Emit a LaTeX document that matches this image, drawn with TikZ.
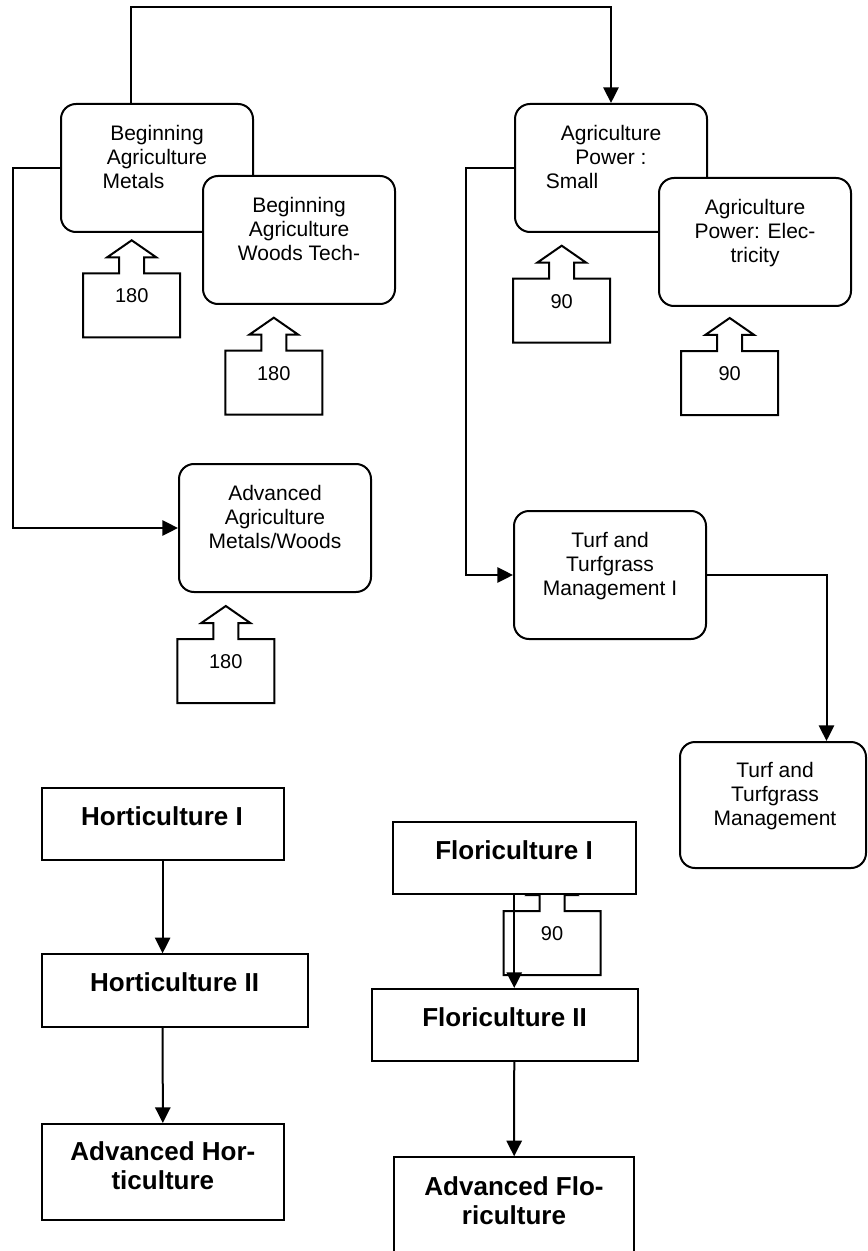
\documentclass[tikz,border=0pt]{standalone}
\usepackage{fontspec}
\setmainfont{Liberation Sans}
\usetikzlibrary{arrows.meta}
\tikzset{
  rbox/.style={draw, line width=1pt, fill=white, rounded corners=7.5pt, inner sep=0pt, minimum width=96pt, minimum height=64pt},
  sbox/.style={draw, line width=1pt, fill=white, inner sep=0pt},
  rtxt/.style={font=\fontsize{10.5}{12}\selectfont, align=center, inner sep=0pt, anchor=north},
  btxt/.style={font=\fontsize{13}{14.5}\selectfont\bfseries, align=center, inner sep=0pt, anchor=north},
  ntxt/.style={font=\fontsize{10}{12}\selectfont, inner sep=0pt},
  callout/.style={draw, line width=1pt, fill=white, line join=miter},
  conn/.style={line width=1pt, -{Triangle[length=7.8pt,width=7.6pt]}}
}
\newcommand\UpCall[4]{%
  \draw[callout] ({#2-48.5},#3) -- ({#2-12.5},#3) -- ({#2-12.5},{#3-16}) -- ({#2-24.5},{#3-16}) -- (#2,{#3-33}) -- ({#2+24.5},{#3-16}) -- ({#2+12.5},{#3-16}) -- ({#2+12.5},#3) -- ({#2+48.5},#3) -- ({#2+48.5},{#3+64}) -- ({#2-48.5},{#3+64}) -- cycle;
  \node[ntxt] (#1) at (#2,{#3+22.5}) {#4};}
\begin{document}
\begin{tikzpicture}[x=0.5pt,y=-0.5pt]
\fill[white] (0,0) rectangle (867,1251);
\useasboundingbox (0,0) rectangle (867,1251);

% callouts
\UpCall{c1}{131.7}{273.3}{180}
\UpCall{c2}{273.8}{350.7}{180}
\UpCall{c3}{225.8}{639}{180}
\UpCall{c4}{561.7}{278.7}{90}
\UpCall{c5}{729.7}{351}{90}
\UpCall{c6}{552}{911}{90}

% rounded boxes
\node[rbox] (b1) at (157,168) {};
\node[rtxt] (b1t) at (157,125) {Beginning\\Agriculture\\Metals\hspace*{23.5pt}};
\node[rbox] (b2) at (299,240) {};
\node[rtxt] (b2t) at (299,197) {Beginning\\Agriculture\\Woods Tech-};
\node[rbox] (adv) at (275,528) {};
\node[rtxt] (advt) at (275,485) {Advanced\\Agriculture\\Metals/Woods};
\node[rbox] (small) at (611,168) {};
\node[rtxt] (smallt) at (611,125) {Agriculture\\Power :\\Small\hspace*{39pt}};
\node[rbox] (elec) at (755,242) {};
\node[rtxt] (elect) at (755,199) {Agriculture\\Power: Elec-\\tricity};
\node[rbox] (turf1) at (610,575) {};
\node[rtxt] (turf1t) at (610,532) {Turf and\\Turfgrass\\Management I};
\node[rbox, minimum width=93pt, minimum height=63pt] (turf2) at (773,805) {};
\node[rtxt] (turf2t) at (775,762) {Turf and\\Turfgrass\\Management};

% square boxes
\node[sbox, minimum width=120.9pt, minimum height=35.85pt] (hort1) at (162.6,824.2) {};
\node[btxt] (hort1t) at (162,806) {Horticulture I};
\node[sbox, minimum width=132.9pt, minimum height=36.2pt] (hort2) at (174.6,990.5) {};
\node[btxt] (hort2t) at (174.6,972) {Horticulture II};
\node[sbox, minimum width=121.15pt, minimum height=48pt] (advhort) at (162.85,1172) {};
\node[btxt] (advhortt) at (162.85,1141.5) {Advanced Hor-\\ticulture};
\node[sbox, minimum width=121.25pt, minimum height=36pt] (flor1) at (514.25,858) {};
\node[btxt] (flor1t) at (514,840) {Floriculture I};
\node[sbox, minimum width=132.9pt, minimum height=35.85pt] (flor2) at (504.6,1024.85) {};
\node[btxt] (flor2t) at (504.6,1007) {Floriculture II};
\node[sbox, minimum width=120.15pt, minimum height=50pt] (advflor) at (514.15,1207.3) {};
\node[btxt] (advflort) at (514,1176) {Advanced Flo-\\riculture};

% connectors
\coordinate (tl) at (131,7);
\coordinate (tr) at (611,7);
\draw[conn] (tl |- b1.north) -- (tl) -- (tr) -- (small.north);
\coordinate (lc) at (13,168);
\draw[conn] (b1.west) -- (lc) |- (adv.west);
\coordinate (rc) at (466,168);
\draw[conn] (small.west) -- (rc) |- (turf1.west);
\coordinate (rt) at (826.5,575);
\draw[conn] (turf1.east) -- (rt) -- (rt |- turf2.north);
\draw[conn] (hort1.south) -- (hort1.south |- hort2.north);
\draw[conn] (hort1.south |- hort2.south) -- (advhort.north);
\draw[conn] (flor1.south) -- (flor1.south |- flor2.north);
\draw[conn] (flor1.south |- flor2.south) -- (advflor.north);
\end{tikzpicture}
\end{document}
